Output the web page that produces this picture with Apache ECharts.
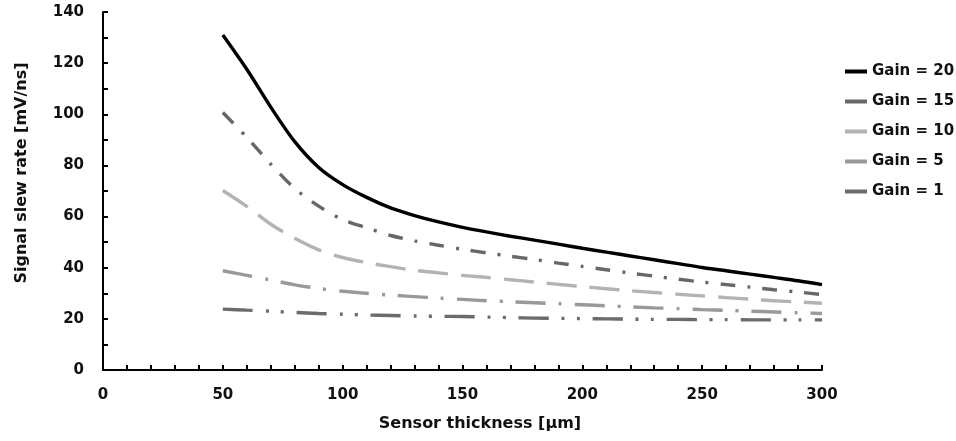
<!DOCTYPE html>
<html>
<head>
<meta charset="utf-8">
<script src="https://cdn.jsdelivr.net/npm/echarts@6/dist/echarts.min.js"></script>
<style>html,body{margin:0;padding:0;background:#fff}#c{width:956px;height:441px}</style>
</head>
<body>
<div id="c"></div>
<script>
const thickness = [50,60,70,80,90,100,110,120,130,140,150,160,170,180,190,200,210,220,230,240,250,260,270,280,290,300];
const gain20 = [131,117.6,102.8,89.3,79.2,72.5,67.5,63.4,60.4,57.9,55.8,54,52.3,50.8,49.2,47.6,46.1,44.6,43.1,41.6,40.1,38.8,37.5,36.2,34.9,33.4];
const gain15 = [100.7,91,80.5,71,64.1,58.8,55.6,52.6,50.5,48.8,47.2,45.8,44.5,43.2,41.8,40.5,39.2,37.9,36.7,35.5,34.4,33.4,32.4,31.4,30.5,29.5];
const gain10 = [70.2,64,57,51.5,47,44,42,40.4,39,38,37,36.2,35.3,34.4,33.5,32.6,31.8,31,30.3,29.6,29,28.3,27.7,27.1,26.6,26.1];
const gain5 = [38.8,37,35.2,33.3,31.9,30.8,30,29.3,28.7,28.1,27.6,27.1,26.7,26.3,25.9,25.5,25.1,24.7,24.3,24,23.6,23.3,23,22.7,22.4,22.1];
const gain1 = [23.8,23.4,23,22.5,22.1,21.8,21.5,21.3,21.1,21,20.9,20.7,20.5,20.3,20.2,20.1,20,19.9,19.8,19.8,19.7,19.7,19.6,19.6,19.6,19.6];
const seriesNames = ['Gain = 20','Gain = 15','Gain = 10','Gain = 5','Gain = 1'];
const xTitle = 'Sensor thickness [µm]';
const yTitle = 'Signal slew rate [mV/ns]';

const FONT = 'DejaVu Sans';
const pair = arr => thickness.map((t,i)=>[t,arr[i]]);
const styles = [
  {color:'#000000', type:'solid'},
  {color:'#676767', type:[15,12,3,12]},
  {color:'#b3b3b3', type:[30,13]},
  {color:'#999999', type:[30,13,3,13]},
  {color:'#6b6b6b', type:[30,13,3,12,3,13]}
];
const datas = [gain20,gain15,gain10,gain5,gain1];

const chart = echarts.init(document.getElementById('c'), null, {renderer:'canvas'});
chart.setOption({
  animation:false,
  backgroundColor:'#fff',
  grid:{left:103,right:134,top:12,bottom:71,containLabel:false},
  legend:{
    orient:'vertical', left:840, top:59, itemGap:15,
    itemWidth:22, itemHeight:4, icon:'rect',
    textStyle:{fontFamily:FONT,fontWeight:'bold',fontSize:15,color:'#111'},
    data:seriesNames
  },
  graphic:[
    {type:'text', x:480, y:424, style:{text:xTitle, font:'bold 16px "DejaVu Sans"', fill:'#111', align:'center', verticalAlign:'middle'}},
    {type:'text', x:22, y:173, rotation:Math.PI/2, style:{text:yTitle, font:'bold 16px "DejaVu Sans"', fill:'#111', align:'center', verticalAlign:'middle'}}
  ],
  xAxis:{
    type:'value', min:0, max:300, interval:50,
    axisLine:{show:true,lineStyle:{color:'#000',width:2}},
    axisTick:{show:true,inside:true,length:5,lineStyle:{color:'#000',width:2}},
    minorTick:{show:true,splitNumber:5,length:5,lineStyle:{color:'#000',width:2}},
    axisLabel:{fontFamily:FONT,fontWeight:'bold',fontSize:15,color:'#111',margin:18},
    splitLine:{show:false}
  },
  yAxis:{
    type:'value', min:0, max:140, interval:20,
    axisLine:{show:true,lineStyle:{color:'#000',width:2}},
    axisTick:{show:true,inside:true,length:5,lineStyle:{color:'#000',width:2}},
    minorTick:{show:true,splitNumber:2,length:5,lineStyle:{color:'#000',width:2}},
    axisLabel:{fontFamily:FONT,fontWeight:'bold',fontSize:15,color:'#111',margin:19},
    splitLine:{show:false}
  },
  series: seriesNames.map((n,i)=>({
    name:n, type:'line', smooth:0.3, showSymbol:false, symbol:'none',
    data:pair(datas[i]),
    itemStyle:{color:styles[i].color},
    lineStyle:{color:styles[i].color,width:3.4,type:styles[i].type,cap:'butt'}
  }))
});
</script>
</body>
</html>
